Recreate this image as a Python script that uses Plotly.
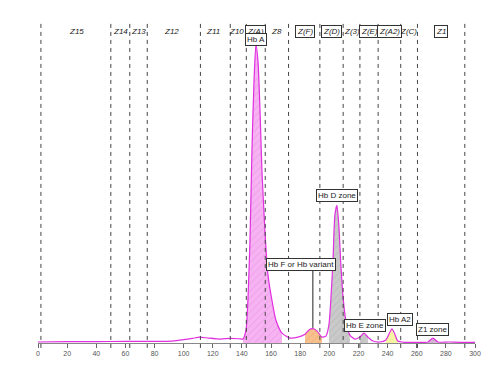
import plotly.graph_objects as go

# ---- data ----
x_vals = [0, 20, 40, 60, 80, 92, 100, 106, 111, 117, 125, 132, 138, 140.7, 142.8, 144.1, 145.5,
          146.9, 148.3, 149.6, 151, 152.4, 153.7, 155.8, 157.8, 160.6, 163.3, 167.5, 173,
          178.5, 183.3, 186, 188.7, 191.5, 194.9, 197.7, 199.7, 201, 202.5, 203.8, 205.2,
          206.5, 207.9, 209.3, 211.3, 214.1, 217.6, 221, 223.7, 226.5, 229.9, 234.7, 238.8,
          240.9, 243, 245, 247, 251.9, 260, 267.7, 271.1, 274.5, 282, 289.6, 300]
y_vals = [0.3, 0.4, 0.4, 0.5, 0.5, 0.6, 1.0, 1.4, 1.8, 1.5, 1.2, 1.4, 1.3, 1.2, 4, 13, 31,
          59, 80, 91, 86, 71, 53, 34, 21, 13, 7, 3, 1.5,
          1.8, 2.7, 4.0, 4.4, 3.7, 1.8, 2.1, 5.5, 13, 25, 39, 42,
          36, 24, 14.6, 7, 2.4, 1.2, 1.8, 3.0, 1.8, 0.6, 0.3, 0.9,
          2.7, 4.3, 2.7, 0.6, 0.2, 0.2, 0.3, 1.5, 0.3, 0.3, 0.2, 0.2]

zone_bounds = [2, 50, 63, 75, 111.5, 132, 143, 156, 172, 193.5, 209.5, 221, 233.5, 249, 260.5, 293]
zone_labels = ["Z15", "Z14", "Z13", "Z12", "Z11", "Z10", "Z(A)", "Z8", "Z(F)", "Z(D)",
               "Z(3)", "Z(E)", "Z(A2)", "Z(C)", "Z1"]
zone_label_x = [26.5, 56.7, 69.3, 91.7, 120.1, 136.6, 149.6, 163.8, 183.3, 201.6,
                215.3, 227.4, 241.6, 254.6, 276.6]
zone_boxed = [False, False, False, False, False, False, True, False, True, True,
              False, True, True, False, True]

peak_names = ["Hb A", "Hb F or Hb variant", "Hb D zone", "Hb E zone", "Hb A2", "Z1 zone"]
peak_ranges = [(140.7, 170), (181, 195.5), (199, 215), (219, 228.5), (238.5, 247.5), (267, 275)]
peak_fill = ["#f6b3f1", "#f7c08c", "#c9c9c9", "#c9c9c9", "#f8f4a6", "#d8b8d8"]
peak_pattern = ["#e070e0", "#e09050", "#a0a0a0", "#a0a0a0", "#e8e080", "#c090c0"]
label_x = [149.6, 180.5, 205.5, 224.3, 248.2, 271]
label_y = [92.5, 24, 45, 5.2, 7.2, 4.0]

xaxis_ticks = list(range(0, 301, 20))

# ---- figure ----
fig = go.Figure()

for (lo, hi), fc, pc in zip(peak_ranges, peak_fill, peak_pattern):
    xs = [x for x in x_vals if lo <= x <= hi]
    ys = [y for x, y in zip(x_vals, y_vals) if lo <= x <= hi]
    fig.add_trace(go.Scatter(x=xs, y=ys, mode="lines", line=dict(width=0, shape="spline"),
                             fill="tozeroy", fillcolor=fc,
                             fillpattern=dict(shape="/", fgcolor=pc, bgcolor=fc, size=5, solidity=0.15),
                             hoverinfo="skip", showlegend=False))

fig.add_trace(go.Scatter(x=x_vals, y=y_vals, mode="lines",
                         line=dict(color="#e030e0", width=1.2, shape="spline", smoothing=0.6),
                         showlegend=False))

shapes = []
for b in zone_bounds:
    shapes.append(dict(type="line", xref="x", yref="paper", x0=b, x1=b, y0=-0.015, y1=0.985,
                       line=dict(color="#444", width=1, dash="4px,4px")))
# Hb F pointer line
shapes.append(dict(type="line", xref="x", yref="y", x0=188.7, x1=188.7, y0=22.8, y1=4.6,
                   line=dict(color="#222", width=1)))
fig.update_layout(shapes=shapes)

annotations = []
for lbl, lx, boxed in zip(zone_labels, zone_label_x, zone_boxed):
    annotations.append(dict(x=lx, y=0.97, xref="x", yref="paper", text="<i>" + lbl + "</i>",
                            showarrow=False, font=dict(size=8, color="#222", family="Liberation Sans, Arial"),
                            bordercolor="#333" if boxed else "rgba(0,0,0,0)", borderwidth=1, borderpad=1,
                            bgcolor="white" if boxed else "rgba(0,0,0,0)"))
for name, lx, ly in zip(peak_names, label_x, label_y):
    annotations.append(dict(x=lx, y=ly, xref="x", yref="y", text=name, showarrow=False,
                            font=dict(size=8, color="#222", family="Liberation Sans, Arial"),
                            bordercolor="#333", borderwidth=1, borderpad=1, bgcolor="white"))
fig.update_layout(annotations=annotations)

fig.update_layout(
    width=500, height=373,
    margin=dict(l=38, r=25, t=15, b=30),
    paper_bgcolor="white", plot_bgcolor="white",
    xaxis=dict(range=[0, 300], tickvals=xaxis_ticks, ticks="outside", ticklen=4,
               tickcolor="#666", showline=True, linecolor="#888", linewidth=1, showgrid=False,
               zeroline=False, tickfont=dict(size=7, color="#555", family="Liberation Sans, Arial")),
    yaxis=dict(range=[0, 100], visible=False, showgrid=False, zeroline=False),
)

fig.write_html("out.html")
